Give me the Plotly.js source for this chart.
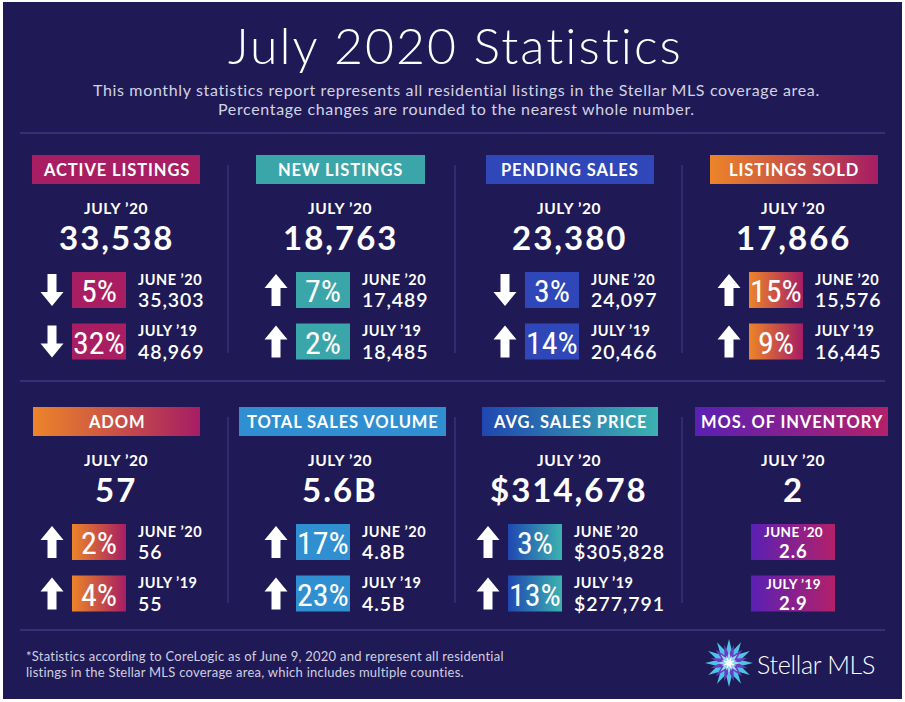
<!DOCTYPE html>
<html>
<head>
<meta charset="utf-8">
<script src="https://cdn.plot.ly/plotly-3.0.1.min.js"></script>
<style>html,body{margin:0;padding:0;background:#fff;}#chart{width:905px;height:702px;}</style>
</head>
<body>
<div id="chart"></div>
<script>
// ---------------- DATA ----------------
const titleText = 'July 2020 Statistics';
const subtitleLines = [
  'This monthly statistics report represents all residential listings in the Stellar MLS coverage area.',
  'Percentage changes are rounded to the nearest whole number.'
];
const footerLines = [
  '*Statistics according to CoreLogic as of June 9, 2020 and represent all residential',
  'listings in the Stellar MLS coverage area, which includes multiple counties.'
];
const brandName = 'Stellar MLS';
const metrics = ['ACTIVE LISTINGS', 'NEW LISTINGS', 'PENDING SALES', 'LISTINGS SOLD',
                 'ADOM', 'TOTAL SALES VOLUME', 'AVG. SALES PRICE', 'MOS. OF INVENTORY'];
const valueKinds = ['count', 'count', 'count', 'count', 'count', 'billions', 'usd', 'months'];
const currentPeriod = 'JULY ’20';
const comparePeriods = ['JUNE ’20', 'JULY ’19'];
const currentValues = [33538, 18763, 23380, 17866, 57, 5.6, 314678, 2];
const prevMonthValues = [35303, 17489, 24097, 15576, 56, 4.8, 305828, 2.6];
const prevYearValues = [48969, 18485, 20466, 16445, 55, 4.5, 277791, 2.9];
const pctVsPrevMonth = [5, 7, 3, 15, 2, 17, 3, null];
const pctVsPrevYear = [32, 2, 14, 9, 4, 23, 13, null];
const dirVsPrevMonth = ['down', 'up', 'down', 'up', 'up', 'up', 'up', null];
const dirVsPrevYear = ['down', 'up', 'up', 'up', 'up', 'up', 'up', null];

// ---------------- STYLE / GEOMETRY ----------------
const BG = '#1f1a55';
const RULE = '#3f3a82';
const panelColors = [
  ['#a91e63'], ['#3aa6a9'], ['#2f47b8'], ['#ec8529', '#a61d64'],
  ['#ec8529', '#a61d64'], ['#2f8fd1'], ['#2047b1', '#3cb2b0'], ['#5a20b4', '#b3216a']
];
const labelBoxX = [[32, 200], [256, 425], [486, 654], [710, 878],
                   [33, 200], [239, 446], [482, 658], [695, 888]];
const colCenter = [116, 340, 569, 793];
const rowTop = [155, 407];
const rowShift = [0, 0, 0, 0, 0, 0, -17, 0];
const dividerX = [228, 455, 682];
const dividerY = [[165, 353], [417, 603]];
const ruleY = [133, 381, 630];

const F_MAIN = 'Lato, Open Sans, sans-serif';
const F_NARROW = 'Liberation Sans Narrow, Arial Narrow, Roboto Condensed, sans-serif';

function commas(n) {
  const s = String(Math.round(n));
  return s.replace(/\B(?=(\d{3})+(?!\d))/g, ',');
}
function fmt(i, v) {
  const k = valueKinds[i];
  if (k === 'usd') return '$' + commas(v);
  if (k === 'billions') return v.toFixed(1) + 'B';
  if (k === 'months') return String(v);
  return commas(v);
}
function sp(text, ls) {
  return '<span style="letter-spacing:' + ls + 'px">' + text + '</span>';
}

const traces = [];
const shapes = [];
const annotations = [];

shapes.push({type: 'rect', xref: 'x', yref: 'y', x0: 3, x1: 902, y0: 2, y1: 699,
  fillcolor: BG, line: {width: 0}, layer: 'below'});

ruleY.forEach(y => shapes.push({type: 'line', xref: 'x', yref: 'y', x0: 20, x1: 885, y0: y, y1: y,
  line: {color: RULE, width: 1.5}, layer: 'below'}));
dividerY.forEach(([a, b]) => dividerX.forEach(x => shapes.push({type: 'line', xref: 'x', yref: 'y',
  x0: x, x1: x, y0: a, y1: b, line: {color: RULE, width: 1.2}, layer: 'below'})));

function box(x0, x1, y0, y1, cols) {
  const t = {
    type: 'scatter', mode: 'lines', x: [x0, x1, x1, x0, x0], y: [y0, y0, y1, y1, y0],
    fill: 'toself', fillcolor: cols[cols.length - 1], line: {width: 0, color: 'rgba(0,0,0,0)'},
    hoverinfo: 'skip', showlegend: false
  };
  if (cols.length > 1) {
    t.fillgradient = {type: 'horizontal', colorscale: [[0, cols[0]], [1, cols[1]]]};
  }
  traces.push(t);
}
function txt(x, y, text, size, opts) {
  opts = opts || {};
  annotations.push({
    xref: 'x', yref: 'y', x: x, y: y, text: text, showarrow: false,
    xanchor: opts.xanchor || 'center', yanchor: 'middle',
    align: opts.xanchor === 'left' ? 'left' : 'center', borderpad: 0,
    font: {family: opts.family || F_MAIN, size: size, color: opts.color || '#ffffff',
           weight: opts.weight || 400}
  });
}
function arrow(cx, cy, dir) {
  const s = dir === 'up' ? 1 : -1;
  const tip = cy - 16 * s, base = cy - 2 * s, end = cy + 16 * s;
  const pts = [[cx, tip], [cx + 11.5, base], [cx + 4.5, base], [cx + 4.5, end],
               [cx - 4.5, end], [cx - 4.5, base], [cx - 11.5, base]];
  shapes.push({type: 'path', xref: 'x', yref: 'y',
    path: 'M' + pts.map(p => p[0] + ',' + p[1]).join(' L') + ' Z',
    fillcolor: '#ffffff', line: {width: 0}});
}

// header
txt(455, 45, sp(titleText, 2), 50, {weight: 300});
txt(456, 89, sp(subtitleLines[0], 0.65), 16, {color: '#d3d3e3'});
txt(456, 108, sp(subtitleLines[1], 0.65), 16, {color: '#d3d3e3'});

// panels
metrics.forEach((name, i) => {
  const r = i < 4 ? 0 : 1, c = i % 4;
  const cx = colCenter[c], t = rowTop[r], sh = rowShift[i];
  const [lx0, lx1] = labelBoxX[i];
  box(lx0, lx1, t, t + 29, panelColors[i]);
  txt((lx0 + lx1) / 2, t + 15, sp(name, 0.9), 16.5, {weight: 700});
  txt(cx, t + 53, sp(currentPeriod, 0.6), 15.5, {weight: 700});
  txt(cx, t + 82, sp(fmt(i, currentValues[i]), 2), 33, {weight: 700});
  const prevVals = [prevMonthValues[i], prevYearValues[i]];
  const pcts = [pctVsPrevMonth[i], pctVsPrevYear[i]];
  const dirs = [dirVsPrevMonth[i], dirVsPrevYear[i]];
  for (let k = 0; k < 2; k++) {
    const y0 = t + 117 + k * 51.5, y1 = y0 + 36, ym = (y0 + y1) / 2;
    if (valueKinds[i] === 'months') {
      box(cx - 42, cx + 42, y0, y1, panelColors[i]);
      txt(cx, y0 + 8, sp(comparePeriods[k], 0.4), 13.5, {weight: 700});
      txt(cx, y0 + 27, sp(fmt(i, prevVals[k]), 1), 18.5, {weight: 700});
    } else {
      arrow(cx - 64 + sh, ym, dirs[k]);
      box(cx - 44 + sh, cx + 10 + sh, y0, y1, panelColors[i]);
      txt(cx - 17 + sh, ym + 1, pcts[k] + '%', 32, {family: F_NARROW});
      txt(cx + 21 + sh, y0 + 7.4, sp(comparePeriods[k], 0.5), 14.5, {weight: 700, xanchor: 'left'});
      txt(cx + 21 + sh, y0 + 27.6, sp(fmt(i, prevVals[k]), 0.9), 19.5, {weight: 600, xanchor: 'left'});
    }
  }
});

// footer
txt(25, 656, sp(footerLines[0], 0.25), 13, {color: '#cfcfe0', xanchor: 'left'});
txt(25, 672, sp(footerLines[1], 0.25), 13, {color: '#cfcfe0', xanchor: 'left'});

// logo
function starPath(cx, cy, n, ro, ri, rot) {
  const pts = [];
  for (let j = 0; j < 2 * n; j++) {
    const a = rot + Math.PI * j / n;
    const rr = j % 2 === 0 ? ro : ri;
    pts.push((cx + rr * Math.sin(a)).toFixed(2) + ',' + (cy - rr * Math.cos(a)).toFixed(2));
  }
  return 'M' + pts.join(' L') + ' Z';
}
const LX = 729, LY = 663;
shapes.push({type: 'path', xref: 'x', yref: 'y', path: starPath(LX, LY, 12, 24, 12, 0),
  fillcolor: '#4fc3e6', line: {width: 0}});
shapes.push({type: 'path', xref: 'x', yref: 'y', path: starPath(LX, LY, 12, 19, 9, Math.PI / 12),
  fillcolor: '#6a3cc4', line: {width: 0}});
shapes.push({type: 'path', xref: 'x', yref: 'y', path: starPath(LX, LY, 8, 12, 5, 0),
  fillcolor: '#8fdcf2', line: {width: 0}});
shapes.push({type: 'path', xref: 'x', yref: 'y', path: starPath(LX, LY, 8, 8, 2.5, Math.PI / 8),
  fillcolor: '#ffffff', line: {width: 0}});
txt(756, 664, sp(brandName, -0.3), 25, {weight: 300, xanchor: 'left'});

const layout = {
  width: 905, height: 702,
  margin: {l: 0, r: 0, t: 0, b: 0, pad: 0},
  paper_bgcolor: '#ffffff', plot_bgcolor: 'rgba(0,0,0,0)',
  xaxis: {range: [0, 905], visible: false, fixedrange: true},
  yaxis: {range: [702, 0], visible: false, fixedrange: true},
  showlegend: false,
  shapes: shapes, annotations: annotations
};
Plotly.newPlot('chart', traces, layout, {displayModeBar: false, staticPlot: true});
</script>
</body>
</html>
